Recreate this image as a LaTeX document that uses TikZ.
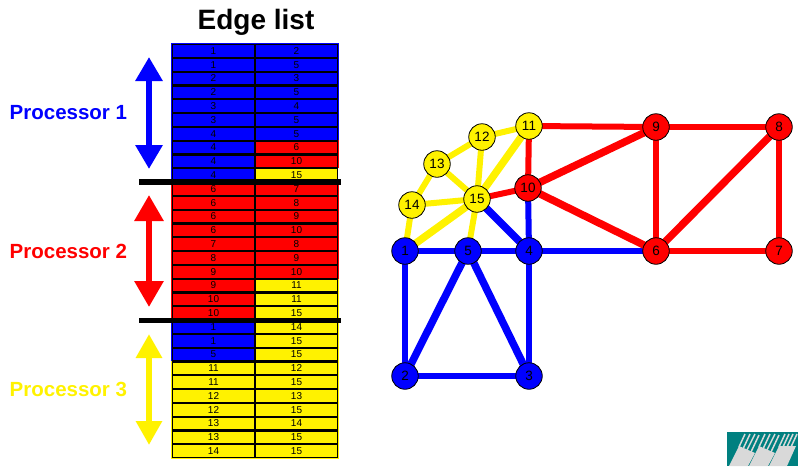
\documentclass[tikz,border=0pt]{standalone}
\usepackage{fontspec}
\setmainfont{Liberation Sans}
\usetikzlibrary{arrows.meta,backgrounds}

\tikzset{
	cell/.style={draw=black, line width=1.1pt, inner sep=0pt, minimum width=82pt, minimum height=12.7pt, font=\fontsize{10}{10}\selectfont},
	bluecell/.style={cell, fill=blue},
	redcell/.style={cell, fill=red},
	yellowcell/.style={cell, fill=yellow},
	vertex/.style={circle, draw=black, line width=0.8pt, inner sep=0pt, minimum size=26.5pt, font=\fontsize{13.5}{13.5}\selectfont},
	link/.style={line width=6pt, shorten >=-3pt, shorten <=-3pt},
	widelink/.style={line width=7.5pt, shorten >=-3pt, shorten <=-3pt},
	procname/.style={anchor=base west, inner sep=0pt, font=\fontsize{20.5}{20.5}\selectfont\bfseries},
	procarrow/.style={line width=6pt},
	bar/.style={line width=5.5pt, black},
	streak/.style={line width=1.5pt, gray!30},
}

\begin{document}
\begin{tikzpicture}[x=1pt, y=-1pt]
	\useasboundingbox (0,0) rectangle (803,469);

	\node[anchor=base, inner sep=0pt, font=\fontsize{28}{28}\selectfont\bfseries] (title) at (256,29) {Edge list};

	% Edge list, left column
	\node[bluecell] (a1) at (213.5,50.9) {1};
	\node[bluecell] (a2) at (213.5,64.7) {1};
	\node[bluecell] (a3) at (213.5,78.5) {2};
	\node[bluecell] (a4) at (213.5,92.3) {2};
	\node[bluecell] (a5) at (213.5,106.1) {3};
	\node[bluecell] (a6) at (213.5,119.9) {3};
	\node[bluecell] (a7) at (213.5,133.7) {4};
	\node[bluecell] (a8) at (213.5,147.5) {4};
	\node[bluecell] (a9) at (213.5,161.3) {4};
	\node[bluecell] (a10) at (213.5,175.1) {4};
	\node[redcell] (a11) at (213.5,188.9) {6};
	\node[redcell] (a12) at (213.5,202.7) {6};
	\node[redcell] (a13) at (213.5,216.5) {6};
	\node[redcell] (a14) at (213.5,230.3) {6};
	\node[redcell] (a15) at (213.5,244.1) {7};
	\node[redcell] (a16) at (213.5,257.9) {8};
	\node[redcell] (a17) at (213.5,271.7) {9};
	\node[redcell] (a18) at (213.5,285.5) {9};
	\node[redcell] (a19) at (213.5,299.3) {10};
	\node[redcell] (a20) at (213.5,313.1) {10};
	\node[bluecell] (a21) at (213.5,326.9) {1};
	\node[bluecell] (a22) at (213.5,340.7) {1};
	\node[bluecell] (a23) at (213.5,354.5) {5};
	\node[yellowcell] (a24) at (213.5,368.3) {11};
	\node[yellowcell] (a25) at (213.5,382.1) {11};
	\node[yellowcell] (a26) at (213.5,395.9) {12};
	\node[yellowcell] (a27) at (213.5,409.7) {12};
	\node[yellowcell] (a28) at (213.5,423.5) {13};
	\node[yellowcell] (a29) at (213.5,437.3) {13};
	\node[yellowcell] (a30) at (213.5,451.1) {14};

	% Edge list, right column
	\node[bluecell] (b1) at (296.5,50.9) {2};
	\node[bluecell] (b2) at (296.5,64.7) {5};
	\node[bluecell] (b3) at (296.5,78.5) {3};
	\node[bluecell] (b4) at (296.5,92.3) {5};
	\node[bluecell] (b5) at (296.5,106.1) {4};
	\node[bluecell] (b6) at (296.5,119.9) {5};
	\node[bluecell] (b7) at (296.5,133.7) {5};
	\node[redcell] (b8) at (296.5,147.5) {6};
	\node[redcell] (b9) at (296.5,161.3) {10};
	\node[yellowcell] (b10) at (296.5,175.1) {15};
	\node[redcell] (b11) at (296.5,188.9) {7};
	\node[redcell] (b12) at (296.5,202.7) {8};
	\node[redcell] (b13) at (296.5,216.5) {9};
	\node[redcell] (b14) at (296.5,230.3) {10};
	\node[redcell] (b15) at (296.5,244.1) {8};
	\node[redcell] (b16) at (296.5,257.9) {9};
	\node[redcell] (b17) at (296.5,271.7) {10};
	\node[yellowcell] (b18) at (296.5,285.5) {11};
	\node[yellowcell] (b19) at (296.5,299.3) {11};
	\node[yellowcell] (b20) at (296.5,313.1) {15};
	\node[yellowcell] (b21) at (296.5,326.9) {14};
	\node[yellowcell] (b22) at (296.5,340.7) {15};
	\node[yellowcell] (b23) at (296.5,354.5) {15};
	\node[yellowcell] (b24) at (296.5,368.3) {12};
	\node[yellowcell] (b25) at (296.5,382.1) {15};
	\node[yellowcell] (b26) at (296.5,395.9) {13};
	\node[yellowcell] (b27) at (296.5,409.7) {15};
	\node[yellowcell] (b28) at (296.5,423.5) {14};
	\node[yellowcell] (b29) at (296.5,437.3) {15};
	\node[yellowcell] (b30) at (296.5,451.1) {15};

	% thin coloured rim behind the cells
	\begin{scope}[on background layer]
		\fill[blue] (171,43) rectangle (255,183);
		\fill[red] (171,183) rectangle (255,320);
		\fill[blue] (171,320) rectangle (255,361);
		\fill[yellow] (171,361) rectangle (255,459);
		\fill[blue] (255,43) rectangle (339,140);
		\fill[red] (255,140) rectangle (339,168);
		\fill[red] (255,182) rectangle (339,279);
		\fill[yellow] (255,279) rectangle (339,459);
	\end{scope}

	% Separators
	\coordinate (bar1l) at (139,182);
	\coordinate (bar1r) at (341,182);
	\coordinate (bar2l) at (139,320.5);
	\coordinate (bar2r) at (341,320.5);
	\draw[bar] (bar1l) -- (bar1r);
	\draw[bar] (bar2l) -- (bar2r);

	% Processors
	\node[procname, blue] (proc1) at (9.5,119) {Processor 1};
	\node[procname, red] (proc2) at (9.5,258) {Processor 2};
	\node[procname, yellow] (proc3) at (9.5,396) {Processor 3};
	\coordinate (arr1t) at (149,57);
	\coordinate (arr1b) at (149,169);
	\coordinate (arr2t) at (149,195);
	\coordinate (arr2b) at (149,307);
	\coordinate (arr3t) at (149,334);
	\coordinate (arr3b) at (149,445);
	\draw[procarrow, blue, {Triangle[length=24pt,width=26pt]}-{Triangle[length=24pt,width=26pt]}] (arr1t) -- (arr1b);
	\draw[procarrow, red, {Triangle[length=26pt,width=28pt]}-{Triangle[length=26pt,width=28pt]}] (arr2t) -- (arr2b);
	\draw[procarrow, yellow, {Triangle[length=24pt,width=25pt]}-{Triangle[length=24pt,width=25pt]}] (arr3t) -- (arr3b);

	% Graph vertices
	\node[vertex, fill=blue] (v1) at (405,251) {1};
	\node[vertex, fill=blue] (v2) at (405,376) {2};
	\node[vertex, fill=blue] (v3) at (529,376) {3};
	\node[vertex, fill=blue] (v4) at (529,251) {4};
	\node[vertex, fill=blue] (v5) at (468,251) {5};
	\node[vertex, fill=red] (v6) at (656,251) {6};
	\node[vertex, fill=red] (v7) at (779,251) {7};
	\node[vertex, fill=red] (v8) at (779,127) {8};
	\node[vertex, fill=red] (v9) at (656,127) {9};
	\node[vertex, fill=red] (v10) at (528,188) {10};
	\node[vertex, fill=yellow] (v11) at (529,126) {11};
	\node[vertex, fill=yellow] (v12) at (482,137) {12};
	\node[vertex, fill=yellow] (v13) at (437,164) {13};
	\node[vertex, fill=yellow] (v14) at (412,205) {14};
	\node[vertex, fill=yellow] (v15) at (477,199) {15};

	% Graph edges
	\begin{scope}[on background layer]
		\draw[link, blue] (v1) -- (v2);
		\draw[link, blue] (v1) -- (v5);
		\draw[link, blue] (v2) -- (v3);
		\draw[widelink, blue] (v2) -- (v5);
		\draw[link, blue] (v3) -- (v4);
		\draw[widelink, blue] (v3) -- (v5);
		\draw[link, blue] (v4) -- (v5);
		\draw[link, blue] (v4) -- (v6);
		\draw[link, blue] (v4) -- (v10);
		\draw[widelink, blue] (v4) -- (v15);
		\draw[link, red] (v6) -- (v7);
		\draw[widelink, red] (v6) -- (v8);
		\draw[link, red] (v6) -- (v9);
		\draw[widelink, red] (v6) -- (v10);
		\draw[link, red] (v7) -- (v8);
		\draw[link, red] (v8) -- (v9);
		\draw[widelink, red] (v9) -- (v10);
		\draw[link, red] (v9) -- (v11);
		\draw[link, red] (v10) -- (v11);
		\draw[link, red] (v10) -- (v15);
		\draw[link, yellow] (v1) -- (v14);
		\draw[widelink, yellow] (v1) -- (v15);
		\draw[link, yellow] (v5) -- (v15);
		\draw[link, yellow] (v11) -- (v12);
		\draw[widelink, yellow] (v11) -- (v15);
		\draw[link, yellow] (v12) -- (v13);
		\draw[link, yellow] (v12) -- (v15);
		\draw[link, yellow] (v13) -- (v14);
		\draw[link, yellow] (v13) -- (v15);
		\draw[link, yellow] (v14) -- (v15);
	\end{scope}

	% Logo
	\fill[teal] (727,432) rectangle (798,466);
	\fill[gray!30] (729,466) -- (739,446) -- (755,453) -- (748,466) -- cycle;
	\fill[gray!30] (749,466) -- (759,446) -- (775,453) -- (768,466) -- cycle;
	\fill[gray!30] (769,466) -- (779,446) -- (796,446) -- (787,466) -- cycle;
	\draw[streak] (739,447) -- (745,434);
	\draw[streak] (743,449) -- (750,434);
	\draw[streak] (747,450) -- (755,434);
	\draw[streak] (751,452) -- (759,435);
	\draw[streak] (759,447) -- (765,434);
	\draw[streak] (763,449) -- (770,434);
	\draw[streak] (767,450) -- (775,434);
	\draw[streak] (771,452) -- (779,435);
	\draw[streak] (779,447) -- (785,434);
	\draw[streak] (783,447) -- (789,434);
	\draw[streak] (787,447) -- (793,434);
	\draw[streak] (791,447) -- (797,434);
\end{tikzpicture}
\end{document}
